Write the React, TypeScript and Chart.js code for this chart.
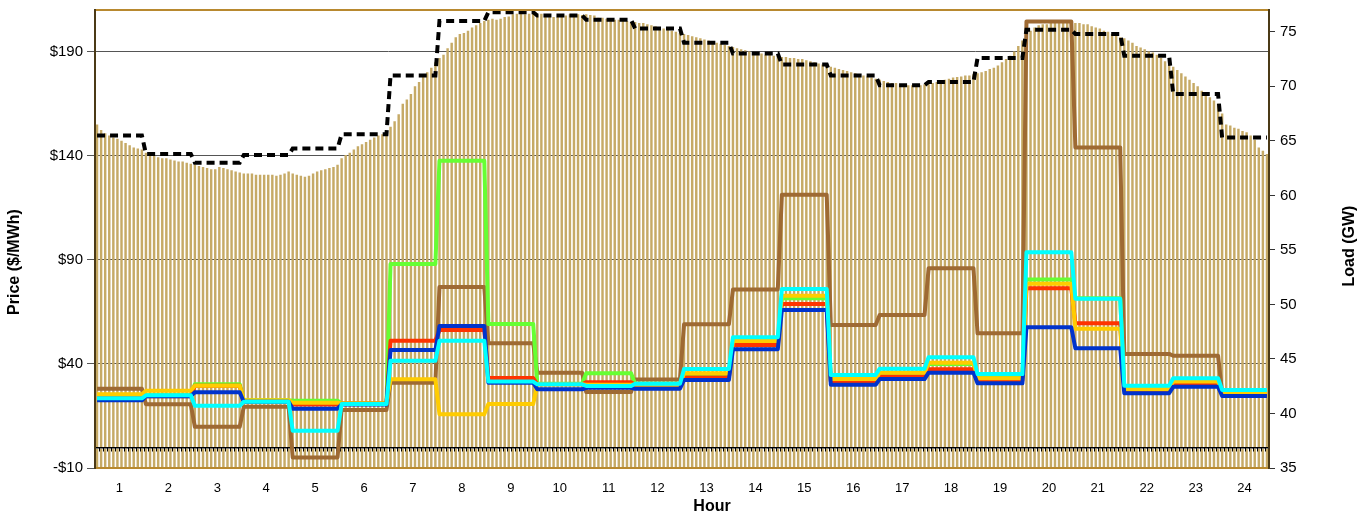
import React, { useEffect, useRef } from 'react';
import { Chart, registerables } from 'chart.js';

Chart.register(...registerables);

// ---------- data ----------
const hours = ['1', '2', '3', '4', '5', '6', '7', '8', '9', '10', '11', '12', '13', '14', '15', '16', '17', '18', '19', '20', '21', '22', '23', '24'];
const priceTicks = [-10, 40, 90, 140, 190];
const loadTicks = [35, 40, 45, 50, 55, 60, 65, 70, 75];

// 5-minute actual load (GW), 12 values per hour
const loadActual = [
  66.5, 66.0, 65.7, 65.5, 65.3, 65.2, 65.0, 64.8, 64.6, 64.4, 64.3, 64.2,
  63.9, 63.8, 63.6, 63.5, 63.4, 63.4, 63.3, 63.2, 63.1, 63.1, 63.0, 62.9,
  62.8, 62.7, 62.6, 62.5, 62.4, 62.4, 62.6, 62.5, 62.4, 62.3, 62.2, 62.1,
  62.0, 62.0, 62.0, 61.9, 61.9, 61.9, 61.9, 61.9, 61.8, 61.9, 62.0, 62.2,
  62.0, 61.9, 61.8, 61.7, 61.8, 62.0, 62.2, 62.3, 62.4, 62.5, 62.6, 62.8,
  63.4, 63.7, 63.9, 64.2, 64.5, 64.7, 64.9, 65.1, 65.3, 65.5, 65.6, 65.9,
  66.3, 66.8, 67.45, 68.4, 68.8, 69.3, 70.0, 70.4, 70.9, 71.3, 71.7, 72.2,
  72.6, 72.9, 73.5, 74.0, 74.5, 74.8, 74.9, 75.1, 75.4, 75.6, 75.8, 76.0,
  76.1, 76.2, 76.1, 76.2, 76.35, 76.4, 76.6, 76.65, 76.65, 76.6, 76.65, 76.65,
  76.6, 76.65, 76.6, 76.55, 76.35, 76.35, 76.4, 76.5, 76.6, 76.6, 76.6, 76.55,
  76.6, 76.55, 76.5, 76.3, 76.3, 76.2, 76.2, 76.1, 76.1, 76.0, 76.0, 75.9,
  75.9, 75.8, 75.8, 75.7, 75.6, 75.5, 75.4, 75.3, 75.2, 75.1, 75.0, 74.9,
  74.8, 74.7, 74.6, 74.5, 74.4, 74.3, 74.2, 74.1, 74.0, 73.9, 73.8, 73.7,
  73.6, 73.5, 73.4, 73.3, 73.2, 73.1, 73.1, 73.0, 72.9, 72.9, 72.8, 72.8,
  72.7, 72.7, 72.6, 72.6, 72.5, 72.5, 72.4, 72.3, 72.2, 72.1, 72.0, 71.9,
  71.8, 71.7, 71.6, 71.5, 71.4, 71.3, 71.2, 71.1, 71.0, 70.9, 70.8, 70.7,
  70.6, 70.5, 70.4, 70.3, 70.3, 70.2, 70.2, 70.1, 70.1, 70.1, 70.1, 70.2,
  70.2, 70.3, 70.4, 70.5, 70.6, 70.7, 70.8, 70.85, 70.9, 71.0, 71.0, 71.1,
  71.2, 71.3, 71.4, 71.6, 71.7, 71.9, 72.2, 72.5, 72.8, 73.2, 73.7, 74.2,
  74.6, 75.1, 75.4, 75.6, 75.7, 75.7, 75.8, 75.8, 75.8, 75.8, 75.8, 75.8,
  75.8, 75.8, 75.7, 75.7, 75.5, 75.4, 75.3, 75.1, 75.0, 74.8, 74.7, 74.5,
  74.4, 74.2, 74.0, 73.7, 73.55, 73.4, 73.2, 73.1, 72.9, 72.6, 72.3, 72.0,
  71.8, 71.5, 71.2, 70.9, 70.6, 70.3, 70.0, 69.6, 69.3, 69.0, 68.7, 68.4,
  67.5, 66.5, 66.4, 66.2, 66.1, 65.9, 65.8, 65.5, 65.1, 64.4, 64.1, 63.8,
];

// hourly load forecast (GW)
const loadForecast = [65.5, 63.8, 63.0, 63.7, 64.3, 65.6, 71.0, 76.0, 76.8, 76.5, 76.1, 75.3, 74.0, 73.0, 72.0, 71.0, 70.1, 70.4, 72.6, 75.2, 74.8, 72.8, 69.3, 65.3];

// hourly prices ($/MWh)
const priceBrown = [28.1, 20.6, 9.8, 19.4, -4.9, 17.9, 31.0, 76.9, 49.9, 35.8, 26.5, 32.5, 59.0, 75.8, 121.3, 58.7, 63.5, 86.0, 54.7, 204.5, 144.0, 44.8, 43.9, 26.3];
const priceGreen = [24.0, 25.0, 30.2, 22.5, 22.3, 21.0, 88.0, 137.6, 59.2, 30.5, 35.5, 30.5, 35.0, 50.5, 71.5, 32.0, 35.5, 40.0, 33.5, 80.5, 71.5, 28.5, 31.5, 27.0];
const priceRed = [24.0, 24.5, 29.5, 22.0, 20.5, 21.0, 51.1, 56.3, 33.2, 30.2, 31.2, 29.9, 33.5, 49.1, 68.8, 31.5, 33.9, 37.4, 32.0, 76.3, 59.5, 27.5, 30.5, 25.5];
const priceYellow = [25.4, 27.1, 29.5, 22.5, 21.4, 21.0, 32.6, 15.8, 20.7, 30.2, 30.0, 30.0, 35.5, 51.0, 72.8, 32.7, 35.8, 40.6, 33.1, 78.5, 56.9, 27.8, 31.5, 26.0];
const priceBlue = [22.5, 24.5, 26.4, 21.8, 18.5, 20.5, 46.7, 58.2, 31.0, 27.8, 28.5, 28.1, 32.3, 47.0, 65.9, 30.0, 32.7, 35.8, 30.7, 57.6, 47.5, 25.9, 29.0, 24.6];
const priceCyan = [23.5, 24.9, 19.9, 21.8, 7.9, 20.7, 41.5, 51.1, 31.5, 30.2, 29.4, 30.5, 37.5, 52.8, 76.0, 34.7, 37.7, 43.2, 35.1, 93.6, 71.3, 29.5, 33.1, 27.5];

// ---------- helpers ----------
const SLOTS = 12;
const slotLabels = hours.flatMap((h) => Array.from({ length: SLOTS }, (_, k) => `${h}-${k}`));
const expand = (arr: number[]) => arr.flatMap((v) => Array(SLOTS).fill(v));

const FONT = '"Liberation Sans", Arial, sans-serif';

const framePlugin = {
  id: 'frame',
  afterDatasetDraw(chart: any, args: any) {
    if (args.index !== 0) return;
    const { ctx, chartArea: a, scales } = chart;
    const xs = scales.x;
    const y0 = Math.round(scales.y.getPixelForValue(0)) + 0.5;
    ctx.save();
    ctx.strokeStyle = '#7a7a7a';
    ctx.lineWidth = 1;
    ctx.beginPath();
    ctx.moveTo(a.left, y0 + 1);
    ctx.lineTo(a.right, y0 + 1);
    ctx.stroke();
    ctx.strokeStyle = '#000';
    ctx.beginPath();
    ctx.moveTo(a.left, y0);
    ctx.lineTo(a.right, y0);
    ctx.stroke();
    ctx.beginPath();
    for (let i = 0; i <= slotLabels.length; i++) {
      const px = Math.round(xs.getPixelForValue(i - 0.5)) + 0.5;
      ctx.moveTo(px, y0);
      ctx.lineTo(px, y0 + 4);
    }
    ctx.stroke();
    ctx.restore();
  },
  afterDraw(chart: any) {
    const { ctx, chartArea: a } = chart;
    ctx.save();
    // frame
    ctx.lineWidth = 2;
    ctx.strokeStyle = '#B8892F';
    ctx.beginPath();
    ctx.moveTo(a.left, a.top);
    ctx.lineTo(a.right, a.top);
    ctx.moveTo(a.left, a.bottom);
    ctx.lineTo(a.right, a.bottom);
    ctx.stroke();
    ctx.strokeStyle = '#4B3A17';
    ctx.beginPath();
    ctx.moveTo(a.left, a.top - 1);
    ctx.lineTo(a.left, a.bottom + 1);
    ctx.moveTo(a.right, a.top - 1);
    ctx.lineTo(a.right, a.bottom + 1);
    ctx.stroke();
    // titles
    ctx.fillStyle = '#000';
    ctx.font = `bold 16px ${FONT}`;
    ctx.textAlign = 'center';
    ctx.textBaseline = 'middle';
    ctx.save();
    ctx.translate(15, 262);
    ctx.rotate(-Math.PI / 2);
    ctx.fillText('Price ($/MWh)', 0, 0);
    ctx.restore();
    ctx.save();
    ctx.translate(1350, 246);
    ctx.rotate(-Math.PI / 2);
    ctx.fillText('Load (GW)', 0, 0);
    ctx.restore();
    ctx.fillText('Hour', 712, 507);
    ctx.restore();
  },
};

const lineDs = (label: string, values: number[], color: string, order: number) => ({
  type: 'line' as const,
  label,
  data: expand(values),
  xAxisID: 'x',
  yAxisID: 'y',
  borderColor: color,
  backgroundColor: color,
  borderWidth: 4,
  pointRadius: 0,
  tension: 0,
  borderJoinStyle: 'round' as const,
  fill: false,
  order,
});

const fitVertical = (w: number) => (s: any) => {
  s.width = w;
  s.paddingTop = 0;
  s.paddingBottom = 0;
};

export default function App() {
  const ref = useRef<HTMLCanvasElement | null>(null);

  useEffect(() => {
    if (!ref.current) return;
    const chart = new Chart(ref.current, {
      type: 'bar',
      data: {
        labels: slotLabels,
        datasets: [
          {
            type: 'bar',
            label: 'Actual Load',
            data: loadActual,
            xAxisID: 'x',
            yAxisID: 'y1',
            backgroundColor: '#C6AA66',
            barPercentage: 0.6,
            categoryPercentage: 1.0,
            base: 35,
            order: 100,
          } as any,
          lineDs('Brown', priceBrown, '#9E6A33', 8),
          lineDs('Green', priceGreen, '#66FF33', 7),
          lineDs('Red', priceRed, '#FF3300', 6),
          lineDs('Yellow', priceYellow, '#FFCC00', 5),
          lineDs('Blue', priceBlue, '#0033CC', 4),
          lineDs('Cyan', priceCyan, '#00FFFF', 3),
          {
            type: 'line',
            label: 'Load Forecast',
            data: expand(loadForecast),
            xAxisID: 'x',
            yAxisID: 'y1',
            borderColor: '#000',
            borderWidth: 4,
            borderDash: [8, 5],
            pointRadius: 0,
            tension: 0,
            fill: false,
            order: 1,
          } as any,
        ],
      },
      options: {
        animation: false,
        responsive: false,
        devicePixelRatio: 1,
        layout: { padding: { top: 10, left: 0, right: 0, bottom: 0 } },
        plugins: { legend: { display: false }, tooltip: { enabled: false }, title: { display: false } },
        scales: {
          x: {
            type: 'category',
            display: false,
            offset: true,
          },
          xh: {
            type: 'category',
            labels: hours,
            position: 'bottom',
            offset: true,
            grid: { display: false },
            border: { display: false },
            ticks: { color: '#000', font: { family: FONT, size: 13 }, padding: 5, maxRotation: 0, autoSkip: false },
            afterFit: (s: any) => { s.height = 46; s.paddingLeft = 0; s.paddingRight = 0; },
          },
          y: {
            type: 'linear',
            position: 'left',
            min: -10,
            max: 210,
            afterBuildTicks: (s: any) => { s.ticks = priceTicks.map((v) => ({ value: v })); },
            grid: { color: '#555', lineWidth: 1, drawTicks: true, tickLength: 8 },
            border: { display: false },
            ticks: {
              color: '#000',
              font: { family: FONT, size: 15 },
              padding: 4,
              callback: (v: any) => (v < 0 ? `-$${Math.abs(v)}` : `$${v}`),
            },
            afterFit: fitVertical(95),
          },
          y1: {
            type: 'linear',
            position: 'right',
            min: 35,
            max: 77,
            afterBuildTicks: (s: any) => { s.ticks = loadTicks.map((v) => ({ value: v })); },
            grid: { drawOnChartArea: false, color: '#333', drawTicks: true, tickLength: 6 },
            border: { display: false },
            ticks: { color: '#000', font: { family: FONT, size: 15 }, padding: 5 },
            afterFit: fitVertical(99),
          },
        },
      },
      plugins: [framePlugin],
    });
    return () => chart.destroy();
  }, []);

  return (
    <div style={{ position: 'absolute', left: 0, top: 0, width: 1368, height: 514, background: '#fff' }}>
      <canvas ref={ref} width={1368} height={514} />
    </div>
  );
}
